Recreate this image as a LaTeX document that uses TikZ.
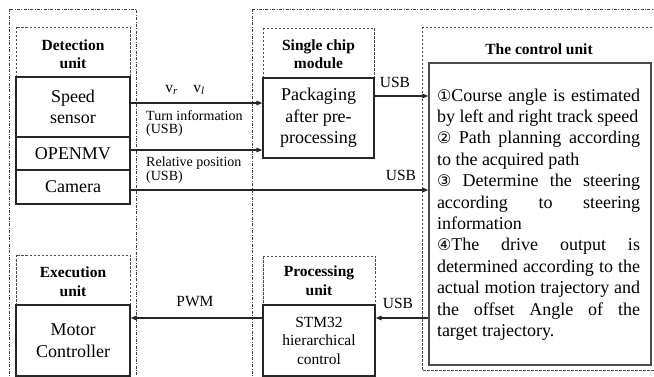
\documentclass[tikz,border=0pt]{standalone}
\usepackage{fontspec}
\setmainfont{Liberation Serif}
\newfontfamily\circfont{DejaVu Sans}
\usetikzlibrary{arrows.meta}
\newcommand{\cnum}[1]{{\circfont\fontsize{16}{16}\selectfont #1}}

\begin{document}
\begin{tikzpicture}[x=1pt,y=-1pt,
  frame/.style={draw=black!75, line width=0.8pt, dash pattern=on 3pt off 1.5pt on 0.7pt off 1.5pt},
  group/.style={draw=black!70, line width=0.8pt, dash pattern=on 2.5pt off 1.5pt},
  block/.style={draw=black!85, line width=1.2pt, inner sep=0pt, align=center, font=\fontsize{18}{21.5}\selectfont},
  head/.style={font=\fontsize{15.5}{18.5}\selectfont\bfseries, align=center, inner sep=0pt},
  lbl/.style={font=\fontsize{15.5}{18}\selectfont, inner sep=0pt},
  small/.style={font=\fontsize{14}{13.5}\selectfont, inner sep=0pt, align=left, anchor=west},
  arr/.style={draw=black!85, line width=1.2pt, -{Triangle[length=6pt,width=4.5pt]}}
]
\useasboundingbox (0,0) rectangle (654,377);
\clip (0,0) rectangle (654,377);

% outer dash-dot frames
\draw[frame] (9,9) rectangle (136,400);
\draw[frame] (252,9) rectangle (700,400);

% dashed unit groups
\draw[group] (16,27) rectangle (130,77);
\draw[group] (16,255) rectangle (130,305);
\draw[group] (263,28) rectangle (374,78);
\draw[group] (263,256) rectangle (375,305);
\draw[group] (422,27) rectangle (700,370);

% group headings
\node[head] (dethead) at (73,54) {Detection\\unit};
\node[head] (exehead) at (73,281.5) {Execution\\unit};
\node[head] (chiphead) at (318.5,54) {Single chip\\module};
\node[head] (prochead) at (319,280.5) {Processing\\unit};
\node[head] (ctrlhead) at (539,49) {The control unit};

% blocks
\node[block, minimum width=114pt, minimum height=60pt] (speed) at (73,107) {Speed\\sensor};
\node[block, minimum width=114pt, minimum height=33pt] (openmv) at (73,153.5) {OPENMV};
\node[block, minimum width=114pt, minimum height=34pt] (camera) at (73,187) {Camera};
\node[block, minimum width=114pt, minimum height=71pt] (motor) at (73,340.5) {Motor\\Controller};
\node[block, minimum width=111pt, minimum height=80pt] (pack) at (318.5,118) {Packaging\\after pre-\\processing};
\node[block, minimum width=112pt, minimum height=71pt, font=\fontsize{15.5}{18.5}\selectfont] (stm) at (319,340.5) {STM32\\hierarchical\\control};
\node[block, draw=black!70, minimum width=222pt, minimum height=302pt] (ctrl) at (540,214) {};

\node[inner sep=0pt, text width=203pt, align=justify,
      font=\fontsize{18}{21.4}\selectfont] (ctrltext) at (538.5,214.5)
{\tolerance=9999\hbadness=10000
\cnum{①}Course angle is estimated\linebreak
by left and right track speed\par
\cnum{②} Path planning according\linebreak
to the acquired path\par
\cnum{③} Determine the steering\linebreak
according to steering\linebreak
information\par
\cnum{④}The drive output is\linebreak
determined according to the\linebreak
actual motion trajectory and\linebreak
the offset Angle of the\linebreak
target trajectory.};

% connectors
\draw[arr] (speed.east |- 0,103) -- (pack.west |- 0,103);
\draw[arr] (openmv.east |- 0,150) -- (pack.west |- 0,150);
\draw[arr] (camera.east |- 0,190) -- (ctrl.west |- 0,190);
\draw[arr] (pack.east |- 0,96) -- (ctrl.west |- 0,96);
\draw[arr] (ctrl.west |- 0,318) -- (stm.east |- 0,318);
\draw[arr] (stm.west |- 0,318) -- (motor.east |- 0,318);

% connector labels
\node[lbl] (vrvl) at (185,90) {v\textsubscript{\textit{r}}\quad v\textsubscript{\textit{l}}};
\node[small] (turn) at (146,123.5) {Turn information\\(USB)};
\node[small] (relpos) at (146,170) {Relative position\\(USB)};
\node[lbl] (usba) at (395,82) {USB};
\node[lbl] (usbb) at (401,175) {USB};
\node[lbl] (usbc) at (398,303) {USB};
\node[lbl] (pwm) at (195,302) {PWM};
\end{tikzpicture}
\end{document}
